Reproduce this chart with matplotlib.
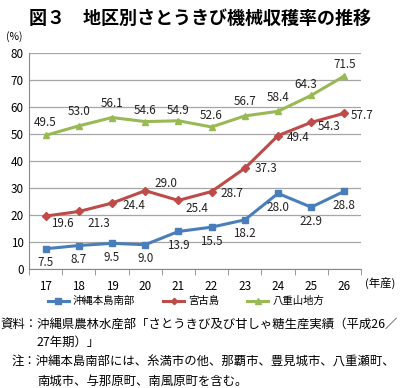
import matplotlib
matplotlib.use("Agg")
import matplotlib.pyplot as plt
from matplotlib.ticker import FixedLocator
import numpy as np

plt.rcParams['font.family'] = ['Noto Sans CJK JP', 'DejaVu Sans']

# data
years = ['17', '18', '19', '20', '21', '22', '23', '24', '25', '26']
okinawa_south = [7.5, 8.7, 9.5, 9.0, 13.9, 15.5, 18.2, 28.0, 22.9, 28.8]
miyako = [19.6, 21.3, 24.4, 29.0, 25.4, 28.7, 37.3, 49.4, 54.3, 57.7]
yaeyama = [49.5, 53.0, 56.1, 54.6, 54.9, 52.6, 56.7, 58.4, 64.3, 71.5]
series_names = ['沖縄本島南部', '宮古島', '八重山地方']

# label offsets in pixels (dx, dy), positive dy = up
blue_off = [(0, -14)] * 10
red_off = [(17, -7), (20, -12), (22, -2), (21, 7), (19, -8), (20, -2), (21, 0), (20, -2), (18, -4), (18, -2)]
green_off = [(0, 13), (0, 14), (0, 14), (0, 11), (0, 10), (0, 11), (0, 14), (0, 14), (-5, 11), (0, 11)]

fig = plt.figure(figsize=(4.0, 3.88), dpi=100)
ax = fig.add_axes([0.0725, 0.3067, 0.83, 0.5567])

x = np.arange(len(years))
styles = [
    (okinawa_south, '#4A7EBB', 's', blue_off),
    (miyako, '#BE4B48', 'D', red_off),
    (yaeyama, '#98B954', '^', green_off),
]
for (vals, col, mk, offs), name in zip(styles, series_names):
    ax.plot(x, vals, color=col, lw=2.2, marker=mk, ms=5 if mk != 'D' else 4,
            markeredgecolor=col, label=name, zorder=3)
    for xi, v, (dx, dy) in zip(x, vals, offs):
        ax.annotate(f'{v:.1f}', (xi, v), xytext=(dx, dy), textcoords='offset pixels',
                    ha='center', va='center', fontsize=8.4, color='#222222')

ax.set_xlim(-0.5, len(years) - 0.5)
ax.set_ylim(0, 80)
ax.set_yticks(range(0, 81, 10))
ax.set_xticks(x)
ax.set_xticklabels(years)
ax.xaxis.set_minor_locator(FixedLocator(np.arange(-0.5, len(years), 1.0)))
ax.tick_params(axis='x', which='major', length=0, labelsize=8.4, pad=8)
ax.tick_params(axis='x', which='minor', length=4, color='#888888', direction='out')
ax.tick_params(axis='y', length=0, labelsize=8.4, pad=4)
ax.grid(axis='y', color='#A6A6A6', lw=0.9)
ax.set_axisbelow(True)
for s in ['top', 'right']:
    ax.spines[s].set_visible(False)
ax.spines['left'].set_color('#888888')
ax.spines['bottom'].set_color('#888888')

fig.text(0.5, 0.953, '図３　地区別さとうきび機械収穫率の推移', ha='center', va='center',
         fontsize=13, fontweight='bold')
fig.text(0.035, 0.905, '(%)', ha='center', va='center', fontsize=7.5)
fig.text(0.913, 0.27, '(年産)', ha='left', va='center', fontsize=8.2)

ax.legend(loc='center', bbox_to_anchor=(0.473, -0.15), ncol=3, frameon=False,
          fontsize=7.5, handlelength=2.0, columnspacing=2.7, handletextpad=0.4,
          markerscale=0.8)

fs = 8.9
fig.text(0.0, 0.163, '資料：沖縄県農林水産部「さとうきび及び甘しゃ糖生産実績（平成26／',
         ha='left', va='center', fontsize=fs)
fig.text(0.092, 0.118, '27年期）」', ha='left', va='center', fontsize=fs)
fig.text(0.03, 0.067, '注：沖縄本島南部には、糸満市の他、那覇市、豊見城市、八重瀬町、',
         ha='left', va='center', fontsize=fs)
fig.text(0.092, 0.018, '南城市、与那原町、南風原町を含む。', ha='left', va='center', fontsize=fs)

fig.savefig('out.png', dpi=100)
